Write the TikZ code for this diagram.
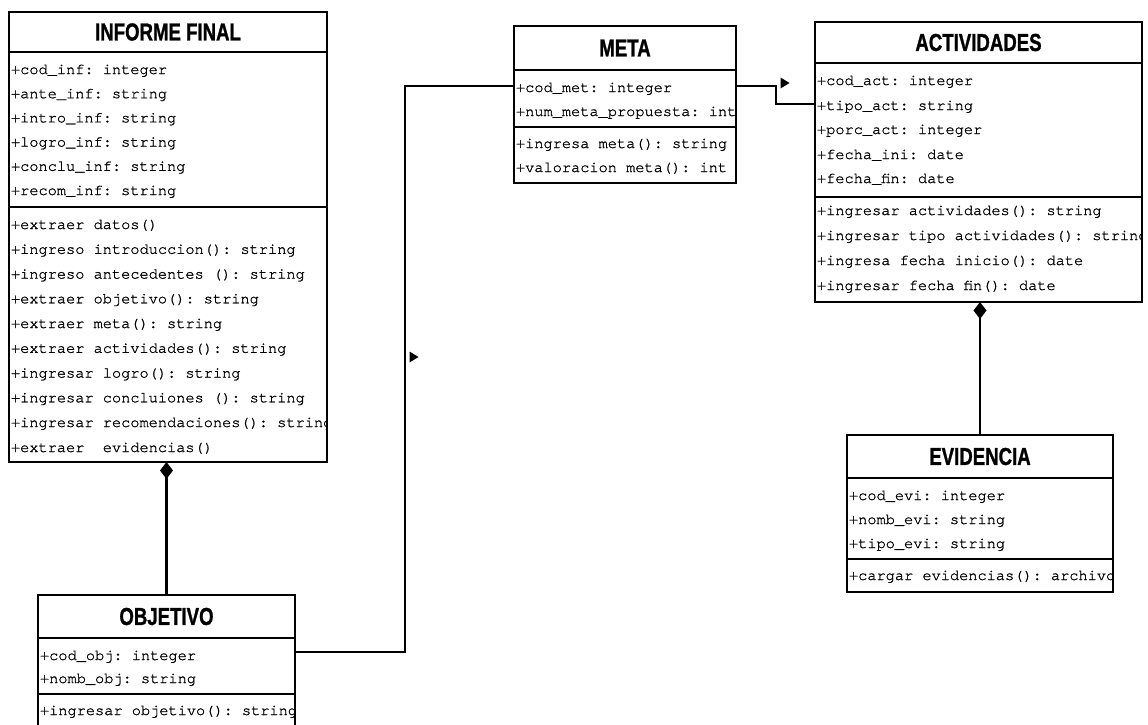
\documentclass[tikz,border=0pt]{standalone}
\usepackage{fontspec}
\usepackage{graphicx}
\usetikzlibrary{arrows.meta,calc}
\newfontfamily\titlefont{Liberation Sans}[BoldFeatures={FakeBold=1.3}]
\newfontfamily\rowfont{TeX Gyre Cursor}[FakeBold=1]
\newcommand\clstitle[1]{\scalebox{0.76}[1]{\titlefont\bfseries\fontsize{24.5}{28}\selectfont #1}}
\tikzset{
  part/.style={draw, line width=2.8pt, fill=white, inner sep=0pt, outer sep=0pt, anchor=north west},
  row/.style={anchor=base west, inner sep=0pt, outer sep=0pt, font=\rowfont\fontsize{15.3}{18}\selectfont\frenchspacing},
  link/.style={line width=2.2pt},
  comp/.style={line width=2.2pt, -{Diamond[length=17pt,width=13pt]}},
}
\begin{document}
\begin{tikzpicture}[x=1pt,y=-1pt]
\useasboundingbox (0,0) rectangle (1148,724);
\clip (0,0) rectangle (1148,724);
\fill[white] (0,0) rectangle (1148,724);

% ---------- INFORME FINAL ----------
\node[part, minimum width=318pt, minimum height=40pt] (inft) at (9,12) {\clstitle{INFORME FINAL}};
\node[part, minimum width=318pt, minimum height=155pt] (infa) at (inft.south west) {};
\node[part, minimum width=318pt, minimum height=255pt] (infm) at (infa.south west) {};
\begin{scope}
\clip (inft.north west) rectangle (infm.south east);
\node[row] (infa1) at (11,74)    {+cod\_inf: integer};
\node[row] (infa2) at (11,98.2)  {+ante\_inf: string};
\node[row] (infa3) at (11,122.4) {+intro\_inf: string};
\node[row] (infa4) at (11,146.6) {+logro\_inf: string};
\node[row] (infa5) at (11,170.8) {+conclu\_inf: string};
\node[row] (infa6) at (11,195)   {+recom\_inf: string};
\node[row] (infm1) at (11,229)   {+extraer datos()};
\node[row] (infm2) at (11,253.8) {+ingreso introduccion(): string};
\node[row] (infm3) at (11,278.6) {+ingreso antecedentes (): string};
\node[row] (infm4) at (11,303.3) {+extraer objetivo(): string};
\node[row] (infm5) at (11,328)   {+extraer meta(): string};
\node[row] (infm6) at (11,352.8) {+extraer actividades(): string};
\node[row] (infm7) at (11,377.6) {+ingresar logro(): string};
\node[row] (infm8) at (11,402.3) {+ingresar concluiones (): string};
\node[row] (infm9) at (11,427)   {+ingresar recomendaciones(): string};
\node[row] (infm10) at (11,452)  {+extraer~ evidencias()};
\end{scope}

% ---------- META ----------
\node[part, minimum width=222pt, minimum height=44pt] (metat) at (514,26) {\clstitle{META}};
\node[part, minimum width=222pt, minimum height=57pt] (metaa) at (metat.south west) {};
\node[part, minimum width=222pt, minimum height=56pt] (metam) at (metaa.south west) {};
\begin{scope}
\clip (metat.north west) rectangle (metam.south east);
\node[row] (metaa1) at (516,92)  {+cod\_met: integer};
\node[row] (metaa2) at (516,116) {+num\_meta\_propuesta: int};
\node[row] (metam1) at (516,148) {+ingresa meta(): string};
\node[row] (metam2) at (516,172) {+valoracion meta(): int};
\end{scope}

% ---------- ACTIVIDADES ----------
\node[part, minimum width=327pt, minimum height=41pt] (actt) at (815,22) {\clstitle{ACTIVIDADES}};
\node[part, minimum width=327pt, minimum height=134pt] (acta) at (actt.south west) {};
\node[part, minimum width=327pt, minimum height=105pt] (actm) at (acta.south west) {};
\begin{scope}
\clip (actt.north west) rectangle (actm.south east);
\node[row] (acta1) at (817,85)  {+cod\_act: integer};
\node[row] (acta2) at (817,110) {+tipo\_act: string};
\node[row] (acta3) at (817,134) {+porc\_act: integer};
\node[row] (acta4) at (817,159) {+fecha\_ini: date};
\node[row] (acta5) at (817,183) {+fecha\_fin: date};
\node[row] (actm1) at (817,215) {+ingresar actividades(): string};
\node[row] (actm2) at (817,240) {+ingresar tipo actividades(): string};
\node[row] (actm3) at (817,265) {+ingresa fecha inicio(): date};
\node[row] (actm4) at (817,290) {+ingresar fecha fin(): date};
\end{scope}

% ---------- EVIDENCIA ----------
\node[part, minimum width=266pt, minimum height=43pt] (evit) at (847,435) {\clstitle{EVIDENCIA}};
\node[part, minimum width=266pt, minimum height=81pt] (evia) at (evit.south west) {};
\node[part, minimum width=266pt, minimum height=33pt] (evim) at (evia.south west) {};
\begin{scope}
\clip (evit.north west) rectangle (evim.south east);
\node[row] (evia1) at (849,500) {+cod\_evi: integer};
\node[row] (evia2) at (849,524) {+nomb\_evi: string};
\node[row] (evia3) at (849,548) {+tipo\_evi: string};
\node[row] (evim1) at (849,580) {+cargar evidencias(): archivo};
\end{scope}

% ---------- OBJETIVO ----------
\node[part, minimum width=257pt, minimum height=43pt] (objt) at (38,595) {\clstitle{OBJETIVO}};
\node[part, minimum width=257pt, minimum height=56pt] (obja) at (objt.south west) {};
\node[part, minimum width=257pt, minimum height=66pt] (objm) at (obja.south west) {};
\begin{scope}
\clip (objt.north west) rectangle (objm.south east);
\node[row] (obja1) at (40,660) {+cod\_obj: integer};
\node[row] (obja2) at (40,683) {+nomb\_obj: string};
\node[row] (objm1) at (40,715) {+ingresar objetivo(): string};
\end{scope}

% ---------- associations ----------
\coordinate (bendA) at (405,0);
\coordinate (bendB) at (776,0);
\coordinate (op)  at ($(obja.north east)+(0,14)$);
\coordinate (mpl) at ($(metaa.north west)+(0,16)$);
\coordinate (mpr) at ($(metaa.north east)+(0,16)$);
\coordinate (ap)  at ($(acta.north west)+(0,41)$);
\draw[link] (op) -- (op -| bendA) -- (bendA |- mpl) -- (mpl);
\draw[link] (mpr) -- (mpr -| bendB) -- (bendB |- ap) -- (ap);

% reading-direction markers
\coordinate (dirA) at (414,357);
\coordinate (dirB) at (785,83);
\fill ($(dirA)+(-4.5,-5.5)$) -- ($(dirA)+(4.5,0)$) -- ($(dirA)+(-4.5,5.5)$) -- cycle;
\fill ($(dirB)+(-4.5,-5.5)$) -- ($(dirB)+(4.5,0)$) -- ($(dirB)+(-4.5,5.5)$) -- cycle;

% ---------- compositions ----------
\draw[comp] (objt.north) -- (objt.north |- infm.south);
\draw[comp] (evit.north) -- (evit.north |- actm.south);
\end{tikzpicture}
\end{document}
